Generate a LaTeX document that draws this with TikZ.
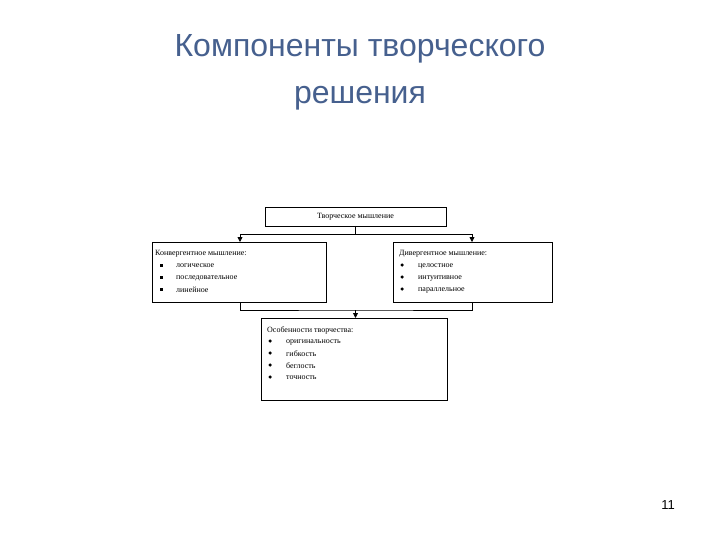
\documentclass[tikz,border=0pt]{standalone}
\usepackage{fontspec}
\setmainfont{Liberation Serif}
\newfontfamily\titlefont{Liberation Sans}
\usetikzlibrary{arrows.meta}
\definecolor{ttl}{HTML}{46608E}
\tikzset{box/.style={draw,line width=0.8pt,inner sep=0pt},
 conn/.style={line width=0.8pt},
 arr/.style={conn,-{Triangle[length=5pt,width=5pt]}},
 txt/.style={font=\fontsize{8}{9}\selectfont,anchor=west,inner sep=0pt},
 sq/.style={fill,inner sep=0pt,minimum size=3pt,rectangle},
 dot/.style={fill,inner sep=0pt,minimum size=3.5pt,circle}}
\begin{document}
\begin{tikzpicture}[x=1pt,y=-1pt]
\useasboundingbox (0,0) rectangle (720,540);
\node[font=\titlefont\fontsize{32}{47}\selectfont,text=ttl,align=center] (title) at (360,72) {Компоненты творческого\\решения};
\node[font=\titlefont\fontsize{13}{13}\selectfont] (pg) at (668,505) {11};
\draw[box] (265,207) rectangle (446,226);
\node[txt,anchor=center] (top) at (355.5,216.5) {Творческое мышление};
\coordinate (topb) at (355.5,226);
\draw[box] (152,242) rectangle (326,302);
\coordinate (lt) at (240,242); \coordinate (lb) at (240,302);
\draw[box] (393,242) rectangle (552,302);
\coordinate (rt) at (472,242); \coordinate (rb) at (472,302);
\draw[box] (261,318) rectangle (447,400);
\coordinate (bt) at (355.5,318);
\coordinate (j1) at (355.5,234);
\coordinate (j2) at (355.5,310);
\draw[conn] (topb) -- (j1);
\draw[arr] (j1) -| (lt);
\draw[arr] (j1) -| (rt);
\draw[conn] (lb) |- (j2) -| (rb);
\draw[arr] (j2) -- (bt);
\node[txt] (lh) at (155,254) {Конвергентное мышление:};
\foreach \t [count=\i] in {логическое,последовательное,линейное}{
 \node[sq] at (161,253+\i*12) {};
 \node[txt] at (176,254+\i*12) {\t};}
\node[txt] (rh) at (399,254) {Дивергентное мышление:};
\foreach \t [count=\i] in {целостное,интуитивное,параллельное}{
 \node[dot] at (402,253+\i*12) {};
 \node[txt] at (418,254+\i*12) {\t};}
\node[txt] (bh) at (267,330) {Особенности творчества:};
\foreach \t [count=\i] in {оригинальность,гибкость,беглость,точность}{
 \node[dot] at (270,329+\i*12) {};
 \node[txt] at (286,330+\i*12) {\t};}
\end{tikzpicture}
\end{document}
